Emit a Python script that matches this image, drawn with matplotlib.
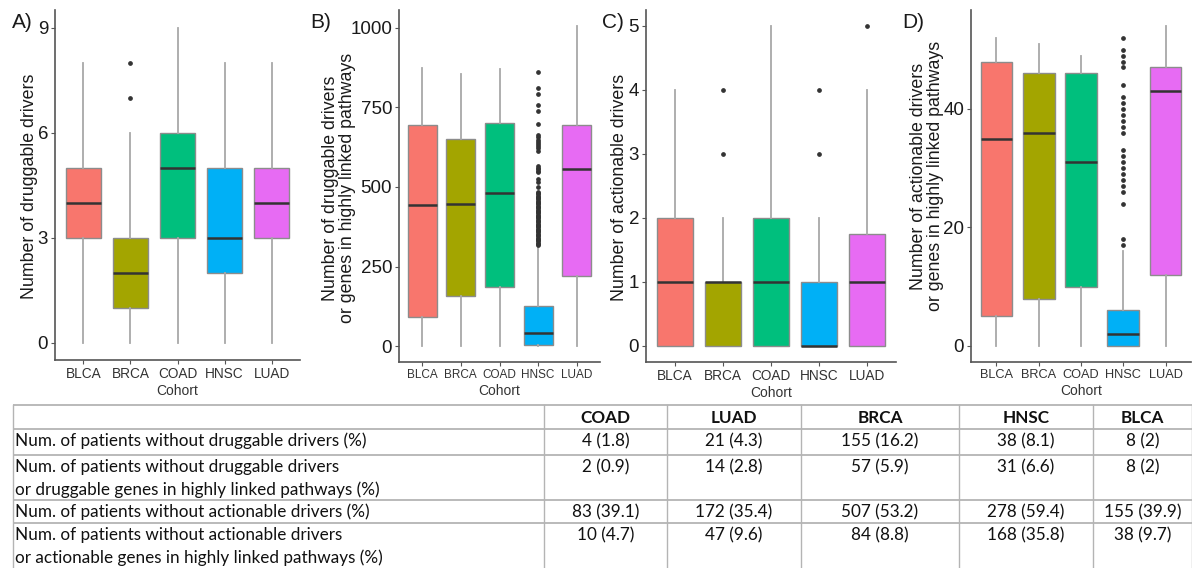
import matplotlib
matplotlib.use("Agg")
import matplotlib.pyplot as plt

# ---------------- data ----------------
cohorts = ["BLCA", "BRCA", "COAD", "HNSC", "LUAD"]
box_colors = ["#F8766D", "#A3A500", "#00BF7D", "#00B0F6", "#E76BF3"]

# Panel A: number of druggable drivers
a_q1 = [3, 1, 3, 2, 3]
a_med = [4, 2, 5, 3, 4]
a_q3 = [5, 3, 6, 5, 5]
a_lo = [0, 0, 0, 0, 0]
a_hi = [8, 6, 9, 8, 8]
a_fliers = [[], [7, 8], [], [], []]

# Panel B: druggable drivers or genes in highly linked pathways
b_q1 = [91, 157, 185, 3, 220]
b_med = [442, 445, 482, 42, 555]
b_q3 = [696, 652, 700, 125, 696]
b_lo = [0, 0, 0, 0, 0]
b_hi = [875, 856, 871, 311, 1006]
b_hnsc_fliers = [317, 321, 325, 329, 333, 337, 341, 345, 349, 353, 357, 361,
                 365, 369, 373, 377, 381, 385, 389, 393, 397, 401, 405, 409,
                 413, 417, 421, 425, 429, 433, 437, 441, 445, 449, 453, 457,
                 461, 465, 469, 473, 477, 481, 484, 499, 515, 526, 546, 551,
                 556, 561, 567, 614, 621, 628, 635, 642, 649, 656, 663, 698,
                 739, 758, 791, 812, 862]
b_fliers = [[], [], [], b_hnsc_fliers, []]

# Panel C: number of actionable drivers
c_q1 = [0, 0, 0, 0, 0]
c_med = [1, 1, 1, 0, 1]
c_q3 = [2, 1, 2, 1, 1.75]
c_lo = [0, 0, 0, 0, 0]
c_hi = [4, 2, 5, 2, 4]
c_fliers = [[], [3, 4], [], [3, 4], [5]]

# Panel D: actionable drivers or genes in highly linked pathways
d_q1 = [5, 8, 10, 0, 12]
d_med = [35, 36, 31, 2, 43]
d_q3 = [48, 46, 46, 6, 47]
d_lo = [0, 0, 0, 0, 0]
d_hi = [52, 51, 49, 16, 54]
d_hnsc_fliers = [17, 18, 24, 26, 27, 28, 29, 30, 31, 32, 33, 36, 37, 38, 39,
                 40, 41, 42, 44, 47, 48, 49, 50, 52]
d_fliers = [[], [], [], d_hnsc_fliers, []]

a_ticks = [0, 3, 6, 9]
b_ticks = [0, 250, 500, 750, 1000]
c_ticks = [0, 1, 2, 3, 4, 5]
d_ticks = [0, 20, 40]

a_ylabel = "Number of druggable drivers"
b_ylabel = "Number of druggable drivers\nor genes in highly linked pathways"
c_ylabel = "Number of actionable drivers"
d_ylabel = "Number of actionable drivers\nor genes in highly linked pathways"
panel_letters = ["A)", "B)", "C)", "D)"]
xlabel = "Cohort"

# table
table_cols = ["COAD", "LUAD", "BRCA", "HNSC", "BLCA"]
table_rows = [
    ["Num. of patients without druggable drivers (%)"],
    ["Num. of patients without druggable drivers",
     "or druggable genes in highly linked pathways (%)"],
    ["Num. of patients without actionable drivers (%)"],
    ["Num. of patients without actionable drivers",
     "or actionable genes in highly linked pathways (%)"],
]
row_druggable = ["4 (1.8)", "21 (4.3)", "155 (16.2)", "38 (8.1)", "8 (2)"]
row_druggable_pw = ["2 (0.9)", "14 (2.8)", "57 (5.9)", "31 (6.6)", "8 (2)"]
row_actionable = ["83 (39.1)", "172 (35.4)", "507 (53.2)", "278 (59.4)", "155 (39.9)"]
row_actionable_pw = ["10 (4.7)", "47 (9.6)", "84 (8.8)", "168 (35.8)", "38 (9.7)"]
table_values = [row_druggable, row_druggable_pw, row_actionable, row_actionable_pw]

# ---------------- figure ----------------
W, H = 1192, 568
fig = plt.figure(figsize=(W / 100, H / 100), dpi=100)
plt.rcParams["font.family"] = ["Liberation Sans", "DejaVu Sans"]

def px_axes(x0, x1, y0, y1):
    return fig.add_axes([x0 / W, 1 - y1 / H, (x1 - x0) / W, (y1 - y0) / H])

panels = [
    (px_axes(55, 300, 10, 360), a_q1, a_med, a_q3, a_lo, a_hi, a_fliers, a_ticks, (-0.5, 9.5), a_ylabel, (30, 186), 9.8),
    (px_axes(399, 600, 10, 362), b_q1, b_med, b_q3, b_lo, b_hi, b_fliers, b_ticks, (-50, 1056), b_ylabel, (339, 188), 8.5),
    (px_axes(646, 896, 10, 362), c_q1, c_med, c_q3, c_lo, c_hi, c_fliers, c_ticks, (-0.25, 5.25), c_ylabel, (620, 187), 9.8),
    (px_axes(971, 1191, 10, 362), d_q1, d_med, d_q3, d_lo, d_hi, d_fliers, d_ticks, (-2.7, 56.7), d_ylabel, (927, 176), 9.2),
]
letter_pos = [(12, 22), (310, 22), (602, 22), (902, 22)]

positions = list(range(1, len(cohorts) + 1))
for i, (ax, q1, med, q3, lo, hi, fl, ticks, ylim, ylab, lpos, xts) in enumerate(panels):
    stats = []
    for j in range(len(cohorts)):
        stats.append(dict(q1=q1[j], med=med[j], q3=q3[j], whislo=lo[j],
                          whishi=hi[j], fliers=fl[j], label=cohorts[j]))
    bp = ax.bxp(stats, positions=positions, widths=0.75, patch_artist=True,
                showcaps=False,
                boxprops=dict(edgecolor="#8c8c8c", linewidth=1.0),
                whiskerprops=dict(color="#a8a8a8", linewidth=1.3),
                medianprops=dict(color="#333333", linewidth=1.8),
                flierprops=dict(marker="o", markersize=2.4, markerfacecolor="#333333",
                                markeredgecolor="#333333", linestyle="none"))
    for patch, col in zip(bp["boxes"], box_colors):
        patch.set_facecolor(col)
    ax.set_xlim(0.4, 5.6)
    ax.set_ylim(*ylim)
    ax.set_yticks(ticks)
    ax.set_yticklabels([str(t) for t in ticks], fontsize=13.5, color="#1a1a1a")
    ax.set_xticks(positions)
    ax.set_xticklabels(cohorts, fontsize=xts, color="#333333")
    for side in ("top", "right"):
        ax.spines[side].set_visible(False)
    for side in ("left", "bottom"):
        ax.spines[side].set_color("#555555")
        ax.spines[side].set_linewidth(1.2)
    ax.tick_params(axis="both", length=3, width=0.8, color="#555555", pad=2)
    ax.set_xlabel(xlabel, fontsize=10, color="#333333", labelpad=2)
    ax.patch.set_alpha(0)
    fig.text(lpos[0] / W, 1 - lpos[1] / H, ylab, rotation=90, ha="center",
             va="center", fontsize=12.8, color="#1a1a1a", linespacing=1.0,
             multialignment="center")
    fig.text(letter_pos[i][0] / W, 1 - letter_pos[i][1] / H, panel_letters[i],
             ha="left", va="center", fontsize=15, color="#1a1a1a")

# ---------------- table ----------------
tax = fig.add_axes([0, 0, 1, 1])
tax.set_xlim(0, W)
tax.set_ylim(H, 0)
tax.axis("off")
tax.patch.set_alpha(0)

col_edges = [13, 544, 667, 801, 959, 1093, 1192]
row_edges = [405, 429, 455, 500, 523, 580]
line_col = "#b4b4b4"
for y in row_edges[:-1]:
    tax.plot([col_edges[0], col_edges[-1]], [y, y], color=line_col, lw=1.3,
             solid_capstyle="butt")
for x in col_edges:
    tax.plot([x, x], [row_edges[0], H], color=line_col, lw=1.0)

tfont = ["Lato", "DejaVu Sans"]
tsize = 12.3
line_pitch = 23
for k, name in enumerate(table_cols):
    xc = (col_edges[k + 1] + col_edges[k + 2]) / 2
    tax.text(xc, (row_edges[0] + row_edges[1]) / 2 + 1, name, ha="center",
             va="center", fontsize=tsize, fontweight="bold", family=tfont,
             color="#111111")
for r, lines in enumerate(table_rows):
    ytop = row_edges[r + 1]
    for li, line in enumerate(lines):
        tax.text(15, ytop + 12 + li * line_pitch, line, ha="left", va="center",
                 fontsize=tsize, family=tfont, color="#111111")
    for k, val in enumerate(table_values[r]):
        xc = (col_edges[k + 1] + col_edges[k + 2]) / 2
        tax.text(xc, ytop + 12, val, ha="center", va="center", fontsize=tsize,
                 family=tfont, color="#111111")

fig.savefig("out.png", dpi=100)
